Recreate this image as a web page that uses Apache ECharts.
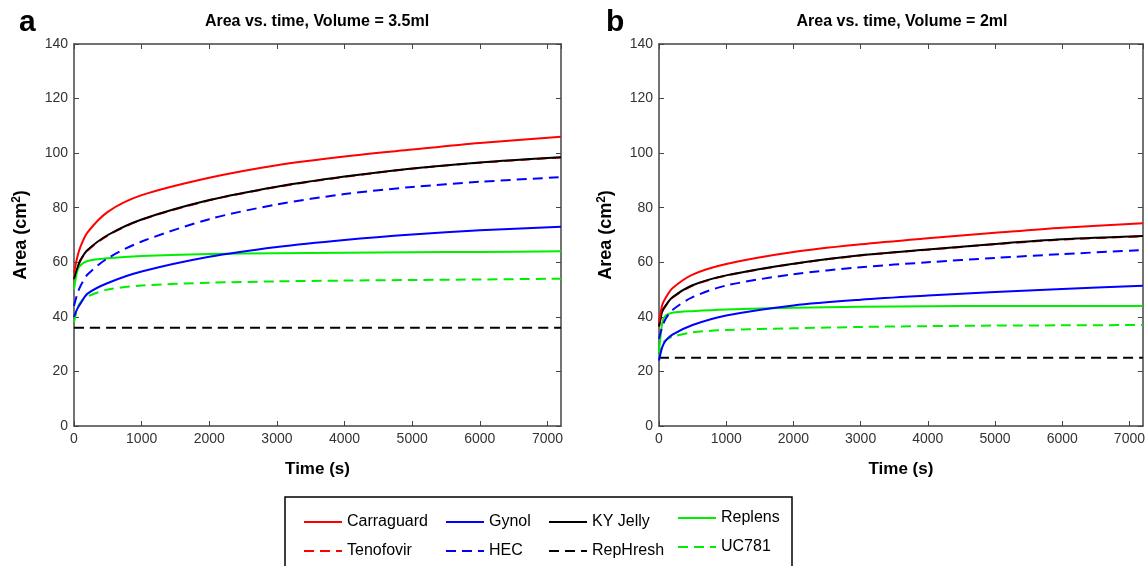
<!DOCTYPE html>
<html>
<head>
<meta charset="utf-8">
<script src="https://cdn.jsdelivr.net/npm/echarts@6/dist/echarts.min.js"></script>
<style>
  html, body { margin: 0; padding: 0; background: #fff; }
  #chart { width: 1148px; height: 566px; }
</style>
</head>
<body>
<div id="chart"></div>
<script>
// sample times (s)
var times = [0, 50, 100, 200, 500, 1000, 2000, 3000, 4000, 5000, 6000, 7200];

// panel a, volume = 3.5ml
var carraguardA = [56, 62, 66, 71, 78.5, 84.6, 91, 95.6, 98.8, 101.3, 103.7, 106];
var tenofovirA  = [53.5, 57.8, 60.8, 64.3, 69.8, 75.6, 82.7, 87.6, 91.3, 94.3, 96.5, 98.4];
var kyJellyA    = [54, 58, 61, 64.5, 70, 75.7, 82.8, 87.7, 91.4, 94.4, 96.6, 98.5];
var gynolA      = [40, 43, 45, 48.5, 52.4, 56.6, 62, 65.6, 68.2, 70.2, 71.7, 73];
var hecA        = [44, 48.5, 51.5, 55.5, 61.5, 67.6, 75.8, 81.2, 85, 87.6, 89.5, 91.2];
var replensA    = [50, 57, 59, 60.5, 61.5, 62.3, 63, 63.3, 63.5, 63.7, 63.8, 64];
var uc781A      = [38, 43, 45.5, 47.5, 50, 51.5, 52.5, 53, 53.3, 53.5, 53.7, 54];
var rephreshA   = [36, 36, 36, 36, 36, 36, 36, 36, 36, 36, 36, 36];

// panel b, volume = 2ml
var carraguardB = [38, 44.5, 47, 50.5, 55.5, 59.4, 63.8, 66.6, 68.8, 70.8, 72.7, 74.3];
var tenofovirB  = [36.3, 42, 44, 47, 51.5, 55.1, 59.4, 62.5, 64.6, 66.6, 68.3, 69.5];
var kyJellyB    = [36.5, 42.2, 44.2, 47.2, 51.6, 55.2, 59.5, 62.6, 64.7, 66.7, 68.4, 69.6];
var gynolB      = [24, 29, 31.3, 33.5, 37, 40.5, 44.2, 46.3, 47.8, 49.1, 50.2, 51.4];
var hecB        = [32, 36.5, 39.3, 42.5, 47.2, 51.5, 55.6, 58.2, 60, 61.6, 63, 64.5];
var replensB    = [27, 38, 40.5, 41.5, 42.1, 42.7, 43.3, 43.7, 43.9, 44, 44, 44];
var uc781B      = [25, 30, 31.5, 32.7, 34.3, 35.2, 35.8, 36.3, 36.6, 36.8, 36.9, 37];
var rephreshB   = [25, 25, 25, 25, 25, 25, 25, 25, 25, 25, 25, 25];

var lineDefs = [
    { name: 'Tenofovir',  color: '#ff0000', dash: true,  a: tenofovirA,  b: tenofovirB },
    { name: 'RepHresh',   color: '#000000', dash: true,  a: rephreshA,   b: rephreshB },
    { name: 'UC781',      color: '#00ee00', dash: true,  a: uc781A,      b: uc781B },
    { name: 'Replens',    color: '#00ee00', dash: false, a: replensA,    b: replensB },
    { name: 'HEC',        color: '#0000ff', dash: true,  a: hecA,        b: hecB },
    { name: 'Gynol',      color: '#0000ff', dash: false, a: gynolA,      b: gynolB },
    { name: 'KY Jelly',   color: '#000000', dash: false, a: kyJellyA,    b: kyJellyB },
    { name: 'Carraguard', color: '#ff0000', dash: false, a: carraguardA, b: carraguardB }
];

function pairs(vals) {
    var out = [];
    for (var i = 0; i < times.length; i++) {
        out.push([times[i], vals[i]]);
    }
    return out;
}

var series = [];
for (var i = 0; i < lineDefs.length; i++) {
    var d = lineDefs[i];
    var ls = { color: d.color, width: 2, type: d.dash ? [10, 6] : 'solid' };
    series.push({
        name: d.name, type: 'line', xAxisIndex: 0, yAxisIndex: 0,
        data: pairs(d.a), smooth: 0.3, symbol: 'none',
        itemStyle: { color: d.color }, lineStyle: ls
    });
    series.push({
        name: d.name, type: 'line', xAxisIndex: 2, yAxisIndex: 2,
        data: pairs(d.b), smooth: 0.3, symbol: 'none',
        itemStyle: { color: d.color }, lineStyle: ls
    });
}

var axisLine = { show: true, onZero: false, lineStyle: { color: '#444', width: 1.5 } };
var axisTick = { show: true, inside: true, length: 5, lineStyle: { color: '#444', width: 1 } };
var labelStyle = { color: '#333', fontSize: 14, fontFamily: 'Liberation Sans, Arial' };
var font = 'Liberation Sans, Arial';

function xAxes(grid) {
    return [
        {
            type: 'value', gridIndex: grid, min: 0, max: 7200, interval: 1000,
            position: 'bottom', axisLine: axisLine, axisTick: axisTick,
            axisLabel: Object.assign({
                margin: 6, showMaxLabel: false,
                formatter: function (v) { return String(v); }
            }, labelStyle),
            splitLine: { show: false },
            name: 'Time (s)', nameLocation: 'middle', nameGap: 35,
            nameTextStyle: { color: '#000', fontSize: 17, fontWeight: 'bold', fontFamily: font }
        },
        {
            type: 'value', gridIndex: grid, min: 0, max: 7200, interval: 1000,
            position: 'top', axisLine: axisLine, axisTick: axisTick,
            axisLabel: { show: false }, splitLine: { show: false }
        }
    ];
}

function yAxes(grid) {
    return [
        {
            type: 'value', gridIndex: grid, min: 0, max: 140, interval: 20,
            position: 'left', axisLine: axisLine, axisTick: axisTick,
            axisLabel: Object.assign({ margin: 6 }, labelStyle),
            splitLine: { show: false },
            name: 'Area (cm{sup|2})', nameLocation: 'middle', nameGap: 42,
            nameTextStyle: {
                color: '#000', fontSize: 18, fontWeight: 'bold', fontFamily: font,
                rich: { sup: { fontSize: 12, fontWeight: 'bold', color: '#000', fontFamily: font, padding: [0, 0, 9, 0] } }
            }
        },
        {
            type: 'value', gridIndex: grid, min: 0, max: 140, interval: 20,
            position: 'right', axisLine: axisLine, axisTick: axisTick,
            axisLabel: { show: false }, splitLine: { show: false }
        }
    ];
}

function legendCol(left, top, names) {
    return {
        orient: 'vertical', left: left, top: top, data: names,
        itemWidth: 38, itemHeight: 14, itemGap: 13, padding: 0,
        itemStyle: { opacity: 0 },
        textStyle: { color: '#000', fontSize: 16, fontFamily: font }
    };
}

var chart = echarts.init(document.getElementById('chart'));
chart.setOption({
    animation: false,
    backgroundColor: '#fff',
    grid: [
        { left: 74, top: 44, width: 487, height: 382 },
        { left: 659, top: 44, width: 487, height: 382 }
    ],
    xAxis: xAxes(0).concat(xAxes(1)),
    yAxis: yAxes(0).concat(yAxes(1)),
    legend: [
        legendCol(303, 514, ['Carraguard', 'Tenofovir']),
        legendCol(445, 514, ['Gynol', 'HEC']),
        legendCol(548, 514, ['KY Jelly', 'RepHresh']),
        legendCol(677, 510, ['Replens', 'UC781'])
    ],
    graphic: [
        { type: 'text', left: 19, top: 8, style: { text: 'a', fontSize: 30, fontWeight: 'bold', fill: '#000', fontFamily: font } },
        { type: 'text', left: 606, top: 8, style: { text: 'b', fontSize: 30, fontWeight: 'bold', fill: '#000', fontFamily: font } },
        { type: 'text', x: 317, y: 14, style: { text: 'Area vs. time, Volume = 3.5ml', fontSize: 16, fontWeight: 'bold', fill: '#000', align: 'center', fontFamily: font } },
        { type: 'text', x: 902, y: 14, style: { text: 'Area vs. time, Volume = 2ml', fontSize: 16, fontWeight: 'bold', fill: '#000', align: 'center', fontFamily: font } },
        { type: 'rect', shape: { x: 285, y: 497, width: 507, height: 80 }, style: { fill: 'none', stroke: '#000', lineWidth: 1.5 } }
    ],
    series: series
});
</script>
</body>
</html>
